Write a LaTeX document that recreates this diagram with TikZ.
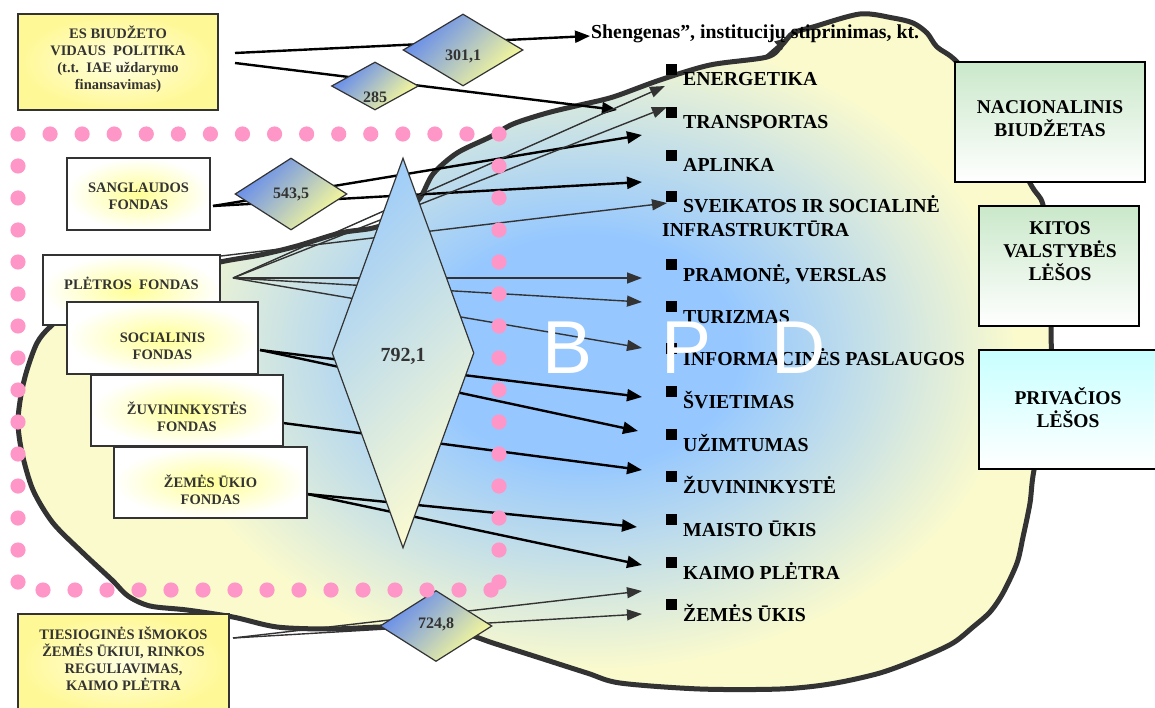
\documentclass[tikz,border=0pt]{standalone}
\usepackage{fontspec}
\setmainfont{Liberation Serif}
\setsansfont{Liberation Sans}
\usetikzlibrary{shapes.geometric,arrows.meta}

\definecolor{blobyellow}{RGB}{250,250,205}
\definecolor{bpdblue}{RGB}{150,200,255}
\definecolor{inkgray}{RGB}{51,51,51}
\definecolor{dotpink}{RGB}{255,150,200}
\definecolor{esyellow}{RGB}{255,248,150}
\definecolor{esglow}{RGB}{255,255,225}
\definecolor{fundglow}{RGB}{255,255,150}
\definecolor{diablue}{RGB}{95,135,240}
\definecolor{diamid}{RGB}{205,205,175}
\definecolor{diayellow}{RGB}{255,255,150}
\definecolor{bigblue}{RGB}{160,205,248}
\definecolor{bigyellow}{RGB}{250,250,210}
\definecolor{budgetgreen}{RGB}{202,232,202}
\definecolor{privcyan}{RGB}{200,255,255}

% blue core of the programme area fading to pale yellow
\pgfdeclareradialshading{bpdglow}{\pgfpoint{0bp}{0bp}}{%
  color(0bp)=(bpdblue); color(9bp)=(bpdblue); color(25bp)=(blobyellow); color(50bp)=(blobyellow)}

% outline of the programme area
\newcommand\bpdblob[1]{%
  \path[#1] plot[smooth cycle, tension=0.5] coordinates {
    (220,262) (260,255) (297,246) (340,233) (373,228) (400,218) (420,198)
    (433,174) (457,153) (490,137) (513,124) (547,113) (580,105) (613,97)
    (660,80) (710,65) (767,57) (782,45) (793,33) (813,27) (860,14) (893,18)
    (913,23) (927,33) (937,47) (957,62) (995,110) (1030,183) (1043,205)
    (1049,260) (1051,327) (1050,400) (1034,470) (1030,503) (1023,537)
    (1017,563) (1003,593) (990,612) (973,627) (953,643) (923,657) (880,673)
    (830,684) (780,689) (700,689) (620,683) (587,673) (537,657) (493,643)
    (460,632) (420,627) (380,627) (330,629) (277,627) (233,617) (187,610)
    (150,606) (128,596) (112,580) (83,553) (53,523) (33,490) (22,453)
    (18,423) (21,395) (27,370) (37,343) (50,327) (80,303) (150,278)};}

\begin{document}
\begin{tikzpicture}[x=1pt, y=-1pt,
  sdia/.style={diamond, draw=inkgray, line width=1.2pt, inner sep=0pt,
    top color=diablue, middle color=diamid, bottom color=diayellow, shading angle=45},
  bigdia/.style={diamond, draw=inkgray, line width=1.2pt, inner sep=0pt,
    top color=bigblue, bottom color=bigyellow, shading angle=45},
  dlab/.style={font=\fontsize{16}{18}\selectfont\bfseries, text=inkgray, inner sep=0pt},
  esbox/.style={draw=inkgray, line width=1.4pt, inner sep=0pt,
    inner color=esglow, outer color=esyellow},
  fundbox/.style={draw=inkgray, line width=1.4pt, inner sep=0pt,
    inner color=fundglow, outer color=white},
  fundtext/.style={font=\fontsize{14.5}{17}\selectfont\bfseries, text=inkgray,
    align=center, inner sep=0pt},
  srcbox/.style={draw=black, line width=1.8pt, inner sep=0pt, bottom color=white},
  srctext/.style={font=\fontsize{19.5}{23}\selectfont\bfseries, align=center, inner sep=0pt},
  item/.style={anchor=base west, inner sep=0pt, font=\fontsize{19.8}{22}\selectfont\bfseries},
  heavyarrow/.style={draw=black, line width=2.4pt, -{Triangle[length=15pt,width=12pt]}},
  lightarrow/.style={draw=inkgray, line width=1.4pt, -{Triangle[length=15pt,width=11pt]}},
]
\useasboundingbox (0,0) rectangle (1155,708);

% programme area
\bpdblob{fill=blobyellow}
\begin{scope}
  \bpdblob{clip}
  \shade[shading=bpdglow] (585,350) ellipse [x radius=430, y radius=320];
\end{scope}
\bpdblob{draw=inkgray, line width=5pt, line join=round}
\coordinate (spike-a) at (764,58);
\coordinate (spike-b) at (787,38);
\draw[draw=inkgray, line width=2.4pt, -{Triangle[length=12pt,width=11pt]}] (spike-a) -- (spike-b);

% connector ends
\coordinate (es-a) at (235,53);
\coordinate (es-b) at (235,63);
\coordinate (sg-o) at (213,206);
\coordinate (pl-o) at (233,278);
\coordinate (pl-c) at (221,256);
\coordinate (so-o) at (260,350);
\coordinate (zu-o) at (283,423);
\coordinate (ze-o) at (307,494);
\coordinate (ti-o) at (233,638);

\coordinate (t-sheng) at (590,36);
\coordinate (t-energ) at (665,86);
\coordinate (t-trans1) at (617,110);
\coordinate (t-trans2) at (667,107);
\coordinate (t-trans3) at (642,135);
\coordinate (t-aplink) at (642,182);
\coordinate (t-sveik) at (667,203);
\coordinate (t-pram) at (642,278);
\coordinate (t-tur) at (642,302);
\coordinate (t-info) at (642,348);
\coordinate (t-svi) at (642,397);
\coordinate (t-uzim) at (638,431);
\coordinate (t-zuv) at (642,470);
\coordinate (t-mais) at (637,527);
\coordinate (t-kaimo) at (642,565);
\coordinate (t-zem1) at (642,591);
\coordinate (t-zem2) at (642,614);

% connectors
\draw[heavyarrow] (es-a) -- (t-sheng);
\draw[heavyarrow] (es-b) -- (t-trans1);
\draw[heavyarrow] (sg-o) -- (t-trans3);
\draw[heavyarrow] (sg-o) -- (t-aplink);
\draw[lightarrow] (pl-o) -- (t-energ);
\draw[lightarrow] (pl-o) -- (t-trans2);
\draw[lightarrow] (pl-c) -- (t-sveik);
\draw[lightarrow] (pl-o) -- (t-pram);
\draw[lightarrow] (pl-o) -- (t-tur);
\draw[lightarrow] (pl-o) -- (t-info);
\draw[heavyarrow] (so-o) -- (t-svi);
\draw[heavyarrow] (so-o) -- (t-uzim);
\draw[heavyarrow] (zu-o) -- (t-zuv);
\draw[heavyarrow] (ze-o) -- (t-mais);
\draw[heavyarrow] (ze-o) -- (t-kaimo);
\draw[lightarrow] (ti-o) -- (t-zem1);
\draw[lightarrow] (ti-o) -- (t-zem2);

% amounts
\node[sdia, minimum width=120pt, minimum height=72pt] (d301) at (463,50) {};
\node[dlab] (d301-t) at ([yshift=-6pt]d301.center) {301,1};
\node[sdia, minimum width=87pt, minimum height=48pt] (d285) at (375,86) {};
\node[dlab] (d285-t) at ([yshift=-11pt]d285.center) {285};
\node[sdia, minimum width=112pt, minimum height=72pt] (d543) at (291,194) {};
\node[dlab] (d543-t) at (d543.center) {543,5};
\node[sdia, minimum width=112pt, minimum height=71pt] (d724) at (436,626) {};
\node[dlab] (d724-t) at ([yshift=2pt]d724.center) {724,8};
\node[bigdia, minimum width=142pt, minimum height=390pt] (d792) at (403,353) {};
\node[dlab, font=\fontsize{20}{22}\selectfont\bfseries] (d792-t) at ([yshift=-3pt]d792.center) {792,1};

% funds
\node[esbox, minimum width=200pt, minimum height=96pt] (esb) at (118,62) {};
\node[fundtext] (esb-t) at (118,59) {ES BIUDŽETO\\VIDAUS\ \ POLITIKA\\(t.t.\ \ IAE uždarymo\\finansavimas)};
\node[fundbox, minimum width=143pt, minimum height=72pt] (sangl) at (138.5,194) {};
\node[fundtext] (sangl-t) at (138.5,196) {SANGLAUDOS\\FONDAS};
\node[fundbox, minimum width=177pt, minimum height=70pt] (plet) at (131.5,290) {};
\node[fundtext] (plet-t) at (131.5,283) {PLĖTROS\ \ FONDAS};
\node[fundbox, minimum width=191pt, minimum height=72pt] (social) at (162.5,338) {};
\node[fundtext] (social-t) at (162.5,346) {SOCIALINIS\\FONDAS};
\node[fundbox, minimum width=192pt, minimum height=71pt] (zuv) at (187,410.5) {};
\node[fundtext] (zuv-t) at (187,417) {ŽUVININKYSTĖS\\FONDAS};
\node[fundbox, minimum width=193pt, minimum height=71pt] (zem) at (210.5,482.5) {};
\node[fundtext] (zem-t) at (210.5,490) {ŽEMĖS ŪKIO\\FONDAS};
\node[esbox, minimum width=211pt, minimum height=100pt] (ties) at (123.5,664) {};
\node[fundtext] (ties-t) at (123.5,659) {TIESIOGINĖS IŠMOKOS\\ŽEMĖS ŪKIUI, RINKOS\\REGULIAVIMAS,\\KAIMO PLĖTRA};

% national sources
\node[srcbox, top color=budgetgreen, bottom color=white, minimum width=190pt, minimum height=120pt] (nac) at (1050,122) {};
\node[srctext] (nac-t) at (1050,119) {NACIONALINIS\\BIUDŽETAS};
\node[srcbox, top color=budgetgreen, bottom color=white, minimum width=160pt, minimum height=120pt] (kitos) at (1059,266) {};
\node[srctext] (kitos-t) at (1060,251) {KITOS\\VALSTYBĖS\\LĖŠOS};
\node[srcbox, top color=privcyan, bottom color=white, minimum width=181pt, minimum height=119pt] (priv) at (1069.5,409.5) {};
\node[srctext] (priv-t) at (1068,408) {PRIVAČIOS\\LĖŠOS};

% priorities
\node[item] (sheng) at (591,39) {Shengenas”, institucijų stiprinimas, kt.};
\node[item] (energ) at (683,86) {ENERGETIKA};
\node[item] (trans) at (683,129) {TRANSPORTAS};
\node[item] (aplink) at (683,172) {APLINKA};
\node[item] (sveik) at (683,213) {SVEIKATOS IR SOCIALINĖ};
\node[item] (infra) at (662,237) {INFRASTRUKTŪRA};
\node[item] (pram) at (683,281) {PRAMONĖ, VERSLAS};
\node[item] (tur) at (683,323) {TURIZMAS};
\node[item] (info) at (683,365) {INFORMACINĖS PASLAUGOS};
\node[item] (svi) at (683,408) {ŠVIETIMAS};
\node[item] (uzim) at (683,451) {UŽIMTUMAS};
\node[item] (zuvk) at (683,493) {ŽUVININKYSTĖ};
\node[item] (mais) at (683,536) {MAISTO ŪKIS};
\node[item] (kaimo) at (683,579) {KAIMO PLĖTRA};
\node[item] (zemk) at (683,621) {ŽEMĖS ŪKIS};
\foreach \b in {86,129,172,213,281,323,365,408,451,493,536,579,621}
  \fill (666,\b-22) rectangle (677,\b-11);

% dotted frame of the structural funds
\foreach \i in {0,...,15} \fill[dotpink] (18+\i*32.07,134) circle (7.6pt);
\foreach \i in {1,...,14} \fill[dotpink] (18,134+\i*32) circle (7.6pt);
\foreach \i in {1,...,14} \fill[dotpink] (499,134+\i*32) circle (7.6pt);
\foreach \i in {0,...,14} \fill[dotpink] (43+\i*32,590) circle (7.6pt);

% programme title
\node[anchor=base west, inner sep=0pt, text=white, font=\sffamily\fontsize{75}{75}\selectfont] (bpd) at (542,373) {B\hspace{69pt}P\hspace{60pt}D};
\end{tikzpicture}
\end{document}
